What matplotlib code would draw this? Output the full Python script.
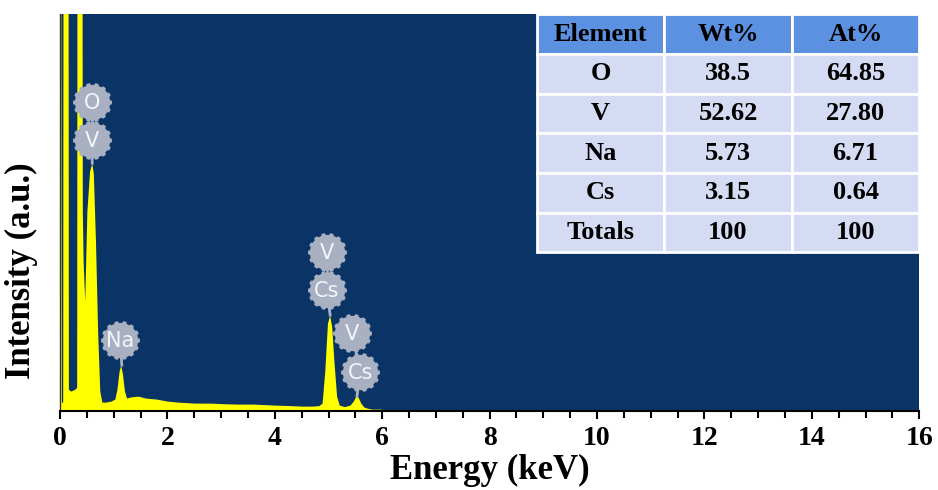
"""
EDS spectrum with element quantification table
"""

import numpy as np
import matplotlib.pyplot as plt
from matplotlib.path import Path

NAVY = '#0a3466'
YELLOW = '#ffff00'
BADGE = '#a9b0c2'
HEADER = '#5b91e0'
CELL = '#d5dbf2'

# Spectrum trace (keV, counts)
energy = [0.00, 0.005, 0.015, 0.025, 0.03, 0.05, 0.055, 0.15, 0.155,
          0.20, 0.28, 0.31, 0.315, 0.41, 0.415, 0.43, 0.46, 0.50, 0.55, 0.59,
          0.62, 0.66, 0.70, 0.74, 0.78, 0.85, 0.95, 1.02, 1.06, 1.10, 1.13,
          1.16, 1.20, 1.24, 1.30, 1.45, 1.60, 1.80, 2.00, 2.20, 2.50, 2.80,
          3.00, 3.30, 3.60, 4.00, 4.30, 4.50, 4.70, 4.82, 4.88, 4.93, 4.98,
          5.02, 5.06, 5.10, 5.15, 5.20, 5.30, 5.40, 5.46, 5.51, 5.55, 5.60,
          5.66, 5.72, 5.80, 5.90, 5.98, 6.00]
counts = [0, 420, 420, 12, 8, 10, 420, 420, 22,
          20, 22, 24, 420, 420, 200, 150, 110, 200, 240, 248,
          238, 170, 80, 20, 9, 9, 10, 12, 22, 40, 46,
          38, 20, 13, 14, 15, 13, 12, 10, 9, 8, 8,
          7.5, 7, 7, 6, 5.5, 5, 5, 5.5, 8, 40, 88,
          96, 84, 50, 15, 6, 4.5, 6, 10, 15, 14, 8,
          4, 3, 2, 2, 2, 0]

# Peak labels, grouped per peak: peak top, badge positions, element names
peak_groups = [
    {'peak': (0.60, 248), 'x': [0.59, 0.59], 'labels': ['O', 'V'], 'ys': [309, 271]},
    {'peak': (1.15, 46), 'x': [1.12], 'labels': ['Na'], 'ys': [71]},
    {'peak': (5.03, 96), 'x': [4.97, 4.97], 'labels': ['V', 'Cs'], 'ys': [159, 121]},
    {'peak': (5.53, 15), 'x': [5.44, 5.59], 'labels': ['V', 'Cs'], 'ys': [78, 39]},
]

# Quantification table
elements = ['O', 'V', 'Na', 'Cs', 'Totals']
wt_pct = ['38.5', '52.62', '5.73', '3.15', '100']
at_pct = ['64.85', '27.80', '6.71', '0.64', '100']


def badge_marker(n_bumps=14, depth=0.05):
    """Circle with a scalloped rim, used as a marker path."""
    t = np.linspace(0, 2 * np.pi, 361)
    r = 1 + depth * np.clip(np.cos(n_bumps * t) * 3, -1, 1)
    verts = np.column_stack([r * np.cos(t), r * np.sin(t)])
    return Path(verts, closed=True)


plt.rcParams['font.family'] = ['Liberation Serif', 'DejaVu Serif']

fig = plt.figure(figsize=(9.38, 4.9), dpi=100)
ax = fig.add_axes([0.064, 0.161, 0.916, 0.810])
ax.set_facecolor(NAVY)

ax.fill_between(energy, counts, color=YELLOW, linewidth=0, zorder=2)

marker = badge_marker()
for g in peak_groups:
    xs, ys = g['x'], g['ys']
    px, py = g['peak']
    # stem from the lowest badge down to the peak top, and between badges
    ax.plot([xs[-1], px], [ys[-1], py], color=BADGE, lw=2, zorder=3)
    if len(xs) > 1:
        ax.plot(xs, ys, color=BADGE, lw=2, zorder=3)
    for x, y, lab in zip(xs, ys, g['labels']):
        ax.plot(x, y, marker=marker, markersize=28, color=BADGE,
                markeredgewidth=0, zorder=4)
        ax.text(x, y - 1, lab, ha='center', va='center', color='#f3f5fa',
                fontsize=15, family='DejaVu Sans', zorder=5)

ax.set_xlim(0, 16)
ax.set_ylim(0, 397)
ax.set_xticks(np.arange(0, 17, 2))
ax.set_xticks(np.arange(0, 16.01, 0.5), minor=True)
ax.set_yticks([])
ax.tick_params(axis='x', which='both', direction='out', width=1.5, color='black')
ax.tick_params(axis='x', which='major', length=6, labelsize=20, pad=5)
ax.tick_params(axis='x', which='minor', length=5)
for lab in ax.get_xticklabels():
    lab.set_fontweight('bold')

for side in ['top', 'right']:
    ax.spines[side].set_visible(False)
ax.spines['bottom'].set_linewidth(1.5)
ax.spines['left'].set_color('#333333')
ax.spines['left'].set_linewidth(1)

ax.set_xlabel('Energy (keV)', fontsize=25, fontweight='bold', labelpad=2)
ax.set_ylabel('Intensity (a.u.)', fontsize=25, fontweight='bold')
ax.yaxis.set_label_coords(-0.026, 0.355)

cell_text = [[e, w, a] for e, w, a in zip(elements, wt_pct, at_pct)]
table = ax.table(cellText=cell_text, colLabels=['Element', 'Wt%', 'At%'],
                 cellLoc='center', bbox=[0.555, 0.40, 0.445, 0.60], zorder=6)
table.auto_set_font_size(False)
for (row, col), cell in table.get_celld().items():
    cell.set_edgecolor('white')
    cell.set_linewidth(2)
    cell.set_facecolor(HEADER if row == 0 else CELL)
    cell.get_text().set_fontsize(19)
    cell.get_text().set_fontweight('bold')
    cell.get_text().set_color('black')

fig.savefig('out.png', dpi=100)
